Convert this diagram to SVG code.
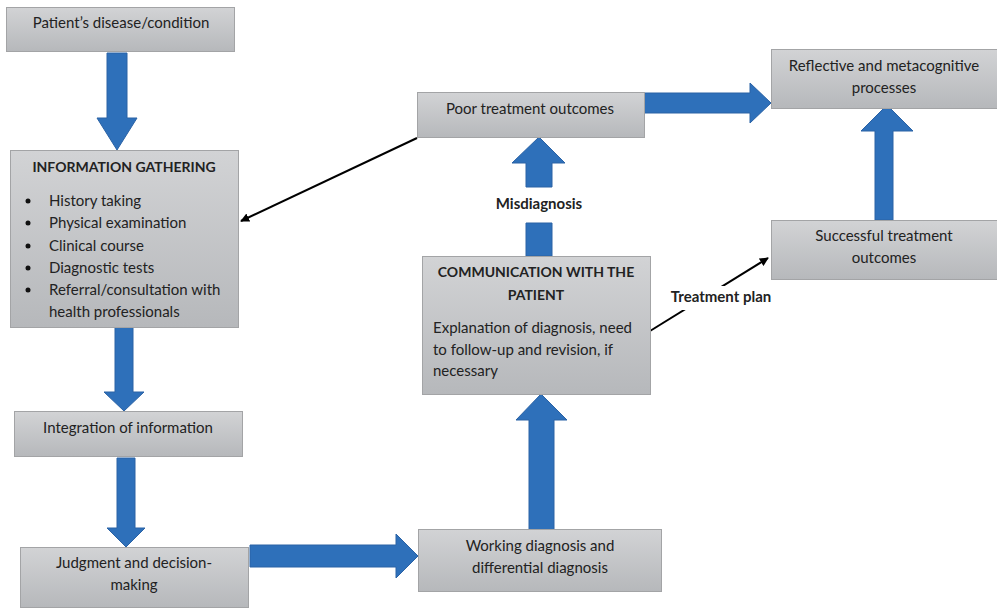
<svg xmlns="http://www.w3.org/2000/svg" width="997" height="608" viewBox="0 0 997 608">
<defs>
<linearGradient id="gb" x1="0" y1="0" x2="0" y2="1">
<stop offset="0" stop-color="#d2d3d5"/>
<stop offset="1" stop-color="#b6b8bb"/>
</linearGradient>
<marker id="ah" viewBox="0 0 10 10" refX="9" refY="5" markerWidth="9" markerHeight="9" markerUnits="userSpaceOnUse" orient="auto">
<path d="M0,0 L10,5 L0,10 z" fill="#000"/>
</marker>
<style>
.box{fill:url(#gb);stroke:#a3a4a6;stroke-width:1}
.t{font-family:Lato,"Open Sans",sans-serif;font-size:15px;fill:#222}
.c{text-anchor:middle}
.b{font-weight:bold}
.cap{font-size:14px}
.ba{fill:#2e70ba;stroke:#2a62a5;stroke-width:1}
.ln{stroke:#000;stroke-width:2;fill:none}
</style>
</defs>
<rect width="997" height="608" fill="#fff"/>
<g id="connectors">
<path class="ba" d="M107,53 H127 V118 H137 L117,150 L97,118 H107 Z"/>
<path class="ba" d="M115,327 H133 V392 H144 L124,411 L104,392 H115 Z"/>
<path class="ba" d="M117,458 H135 V528 H145 L126,547 L107,528 H117 Z"/>
<path class="ba" d="M250,545 H396 V534 L418,556 L396,578 V567 H250 Z"/>
<path class="ba" d="M529,530 V420 H516 L541,394 L567,420 H554 V530 Z"/>
<path class="ba" d="M526,256 V223 H552 V256 Z"/>
<path class="ba" d="M526,187 V163 H512 L539,137 L565,163 H552 V187 Z"/>
<path class="ba" d="M644,93 H750 V83 L771,103 L750,123 V113 H644 Z"/>
<path class="ba" d="M875,220 V131 H861 L887,105 L913,131 H893 V220 Z"/>
<line class="ln" x1="417" y1="138" x2="241" y2="221" marker-end="url(#ah)"/>
<line class="ln" x1="650" y1="331" x2="768" y2="258" marker-end="url(#ah)"/>
<rect x="668" y="286" width="106" height="24" fill="#fff"/>
<text class="t b c" x="721" y="302">Treatment plan</text>
<text class="t b c" x="539" y="209">Misdiagnosis</text>
</g>
<g id="n1">
<rect class="box" x="6.5" y="7.5" width="228" height="44"/>
<text class="t c" x="121" y="28">Patient’s disease/condition</text>
</g>
<g id="n2">
<rect class="box" x="10.5" y="150.5" width="228" height="177"/>
<text class="t b c cap" x="124" y="172">INFORMATION GATHERING</text>
<circle cx="28" cy="201" r="2.5" fill="#111"/>
<circle cx="28" cy="223" r="2.5" fill="#111"/>
<circle cx="28" cy="246" r="2.5" fill="#111"/>
<circle cx="28" cy="268" r="2.5" fill="#111"/>
<circle cx="28" cy="290" r="2.5" fill="#111"/>
<text class="t" x="49" y="206">History taking</text>
<text class="t" x="49" y="228">Physical examination</text>
<text class="t" x="49" y="251">Clinical course</text>
<text class="t" x="49" y="273">Diagnostic tests</text>
<text class="t" x="49" y="295">Referral/consultation with</text>
<text class="t" x="49" y="317">health professionals</text>
</g>
<g id="n3">
<rect class="box" x="14.5" y="411.5" width="228" height="45"/>
<text class="t c" x="128" y="433">Integration of information</text>
</g>
<g id="n4">
<rect class="box" x="20.5" y="547.5" width="228" height="60"/>
<text class="t c" x="134" y="568">Judgment and decision-</text>
<text class="t c" x="134" y="590">making</text>
</g>
<g id="n5">
<rect class="box" x="418.5" y="529.5" width="243" height="62"/>
<text class="t c" x="540" y="551">Working diagnosis and</text>
<text class="t c" x="540" y="573">differential diagnosis</text>
</g>
<g id="n6">
<rect class="box" x="422.5" y="256.5" width="228" height="138"/>
<text class="t b c cap" x="536" y="277">COMMUNICATION WITH THE</text>
<text class="t b c cap" x="536" y="300">PATIENT</text>
<text class="t" x="433" y="333">Explanation of diagnosis, need</text>
<text class="t" x="433" y="355">to follow-up and revision, if</text>
<text class="t" x="433" y="376">necessary</text>
</g>
<g id="n7">
<rect class="box" x="417.5" y="92.5" width="227" height="45"/>
<text class="t c" x="530" y="114">Poor treatment outcomes</text>
</g>
<g id="n8">
<rect class="box" x="771.5" y="49.5" width="226" height="59"/>
<text class="t c" x="884" y="71">Reflective and metacognitive</text>
<text class="t c" x="884" y="93">processes</text>
</g>
<g id="n9">
<rect class="box" x="771.5" y="220.5" width="226" height="59"/>
<text class="t c" x="884" y="241">Successful treatment</text>
<text class="t c" x="884" y="263">outcomes</text>
</g>
</svg>
